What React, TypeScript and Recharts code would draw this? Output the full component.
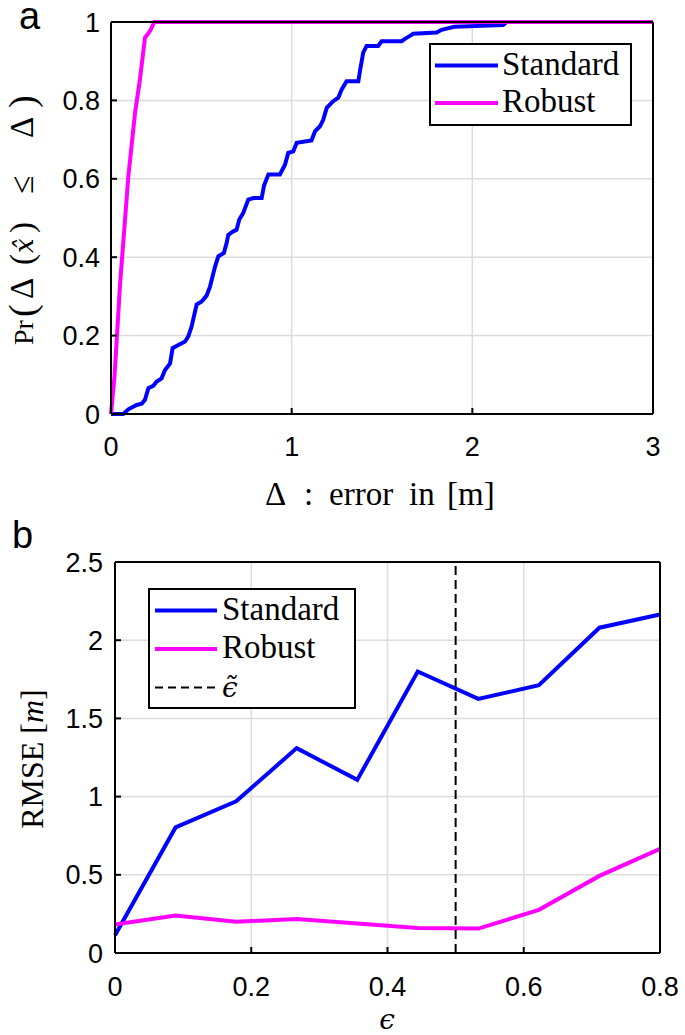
import React from 'react'
import { LineChart, Line, XAxis, YAxis, CartesianGrid, ReferenceLine, Legend } from 'recharts'

// colours (matlab 'b' and 'm')
const BLUE = '#0000ff'
const MAGENTA = '#ff00ff'
const GRID = '#dcdcdc'

// panel a: empirical CDF of the position error
const ERR_STD = [
  0, 0.068, 0.096, 0.142, 0.17, 0.188, 0.207, 0.234, 0.253, 0.28, 0.299, 0.327, 0.341, 0.373, 0.41, 0.428,
  0.446, 0.474, 0.502, 0.529, 0.548, 0.576, 0.594, 0.625, 0.64, 0.649, 0.677, 0.695, 0.71, 0.732, 0.76,
  0.788, 0.834, 0.847, 0.871, 0.935, 0.963, 0.981, 1.009, 1.028, 1.11, 1.129, 1.157, 1.175, 1.194, 1.23,
  1.258, 1.277, 1.304, 1.369, 1.378, 1.396, 1.415, 1.479, 1.498, 1.609, 1.627, 1.645, 1.673, 1.802, 1.83,
  1.9, 2.17, 2.19,
]
const CDF_STD = [
  0, 0, 0.012, 0.023, 0.026, 0.036, 0.066, 0.072, 0.083, 0.091, 0.112, 0.129, 0.168, 0.176, 0.185, 0.198,
  0.223, 0.279, 0.287, 0.302, 0.325, 0.376, 0.402, 0.411, 0.436, 0.457, 0.466, 0.47, 0.496, 0.513, 0.547,
  0.551, 0.551, 0.583, 0.611, 0.611, 0.636, 0.666, 0.67, 0.692, 0.698, 0.721, 0.734, 0.751, 0.781, 0.798,
  0.807, 0.828, 0.849, 0.849, 0.875, 0.922, 0.939, 0.939, 0.951, 0.951, 0.957, 0.962, 0.97, 0.973, 0.98,
  0.988, 0.992, 1,
]
const ERR_ROB = [0, 0.02, 0.05, 0.096, 0.133, 0.16, 0.188, 0.216, 0.24, 3]
const CDF_ROB = [0, 0.1, 0.33, 0.606, 0.768, 0.853, 0.96, 0.977, 1, 1]
const X_TICKS_A = [0, 1, 2, 3]
const Y_TICKS_A = [0, 0.2, 0.4, 0.6, 0.8, 1]

// panel b: RMSE against contamination level
const EPS = [0, 0.0889, 0.1778, 0.2667, 0.3556, 0.4444, 0.5333, 0.6222, 0.7111, 0.8]
const RMSE_STD = [0.113, 0.803, 0.97, 1.31, 1.107, 1.8, 1.625, 1.712, 2.08, 2.164]
const RMSE_ROB = [0.182, 0.239, 0.2, 0.217, 0.189, 0.16, 0.156, 0.276, 0.493, 0.666]
const EPS_TILDE = 0.5
const X_TICKS_B = [0, 0.2, 0.4, 0.6, 0.8]
const Y_TICKS_B = [0, 0.5, 1, 1.5, 2, 2.5]

const stdCdf = ERR_STD.map((x, i) => ({ x, y: CDF_STD[i] }))
const robCdf = ERR_ROB.map((x, i) => ({ x, y: CDF_ROB[i] }))
const rmseRows = EPS.map((eps, i) => ({ eps, standard: RMSE_STD[i], robust: RMSE_ROB[i] }))

const SANS = 'Liberation Sans, Arial, sans-serif'
const SERIF = 'Liberation Serif, Times New Roman, DejaVu Serif'
const MATH = 'DejaVu Serif'
const serif = { fontFamily: SERIF }
const tickFont = { fontSize: 27, fill: '#000', fontFamily: SANS }
const axisStroke = { stroke: '#000', strokeWidth: 2 }
const LW = 4

type Item = { label: string; color: string; dash?: string; math?: boolean }

function BoxLegend({ items, w, h, rowGap, x0, x1, tx }: { items: Item[]; w: number; h: number; rowGap: number; x0: number; x1: number; tx: number }) {
  return (
    <svg width={w} height={h} style={{ display: 'block', overflow: 'visible', fontFamily: SERIF }}>
      <rect x={1} y={1} width={w - 2} height={h - 2} fill="#fff" stroke="#000" strokeWidth={2} />
      {items.map((it, i) => {
        const y = 22.5 + i * rowGap
        return (
          <g key={it.label}>
            <line x1={x0} x2={x1} y1={y} y2={y} stroke={it.color} strokeWidth={it.dash ? 2.2 : LW} strokeDasharray={it.dash} />
            {it.math ? (
              <text x={tx} y={y + 9} style={{ fontFamily: MATH, fontStyle: 'italic' }} fontSize={28}>
                {'\u03F5\u0303'}
              </text>
            ) : (
              <text x={tx} y={y + 9} fontFamily={SERIF} style={serif} fontSize={33}>
                {it.label}
              </text>
            )}
          </g>
        )
      })}
    </svg>
  )
}

function PanelA() {
  return (
    <LineChart width={685} height={500} margin={{ top: 21, right: 31, bottom: 0, left: 0 }}>
      <CartesianGrid stroke={GRID} strokeWidth={1.5} />
      <XAxis dataKey="x" type="number" domain={[0, 3]} ticks={X_TICKS_A} interval={0} height={86}
        tickSize={-6} tickMargin={29} tick={tickFont} axisLine={axisStroke} tickLine={axisStroke} />
      <XAxis xAxisId="top" orientation="top" dataKey="x" type="number" domain={[0, 3]} ticks={X_TICKS_A}
        interval={0} height={1} tickSize={-6} tick={false} axisLine={axisStroke} tickLine={axisStroke} />
      <YAxis type="number" domain={[0, 1]} ticks={Y_TICKS_A} interval={0} width={111}
        tickSize={-6} tickMargin={17} tick={tickFont} axisLine={axisStroke} tickLine={axisStroke} />
      <YAxis yAxisId="right" orientation="right" type="number" domain={[0, 1]} ticks={Y_TICKS_A} interval={0}
        width={1} tickSize={-6} tick={false} axisLine={axisStroke} tickLine={axisStroke} />
      <Line data={stdCdf} dataKey="y" name="Standard" type="linear" stroke={BLUE} strokeWidth={LW}
        dot={false} isAnimationActive={false} />
      <Line data={robCdf} dataKey="y" name="Robust" type="linear" stroke={MAGENTA} strokeWidth={LW}
        dot={false} isAnimationActive={false} />
      <Legend layout="vertical" align="center" verticalAlign="middle"
        wrapperStyle={{ left: 429, top: 43, width: 203, height: 83 }}
        content={() => (
          <BoxLegend w={203} h={83} rowGap={37.5} x0={6} x1={69} tx={73}
            items={[{ label: 'Standard', color: BLUE }, { label: 'Robust', color: MAGENTA }]} />
        )} />
    </LineChart>
  )
}

function PanelB() {
  return (
    <LineChart width={685} height={535} data={rmseRows} margin={{ top: 61, right: 24, bottom: 0, left: 0 }}>
      <CartesianGrid stroke={GRID} strokeWidth={1.5} />
      <XAxis dataKey="eps" type="number" domain={[0, 0.8]} ticks={X_TICKS_B} interval={0} height={82}
        tickSize={-6} tickMargin={30} tick={tickFont} axisLine={axisStroke} tickLine={axisStroke} />
      <XAxis xAxisId="top" orientation="top" dataKey="eps" type="number" domain={[0, 0.8]} ticks={X_TICKS_B}
        interval={0} height={1} tickSize={-6} tick={false} axisLine={axisStroke} tickLine={axisStroke} />
      <YAxis type="number" domain={[0, 2.5]} ticks={Y_TICKS_B} interval={0} width={115}
        tickSize={-6} tickMargin={18} tick={tickFont} axisLine={axisStroke} tickLine={axisStroke} />
      <YAxis yAxisId="right" orientation="right" type="number" domain={[0, 2.5]} ticks={Y_TICKS_B} interval={0}
        width={1} tickSize={-6} tick={false} axisLine={axisStroke} tickLine={axisStroke} />
      <Line dataKey="standard" name="Standard" type="linear" stroke={BLUE} strokeWidth={LW}
        dot={false} isAnimationActive={false} />
      <Line dataKey="robust" name="Robust" type="linear" stroke={MAGENTA} strokeWidth={LW}
        dot={false} isAnimationActive={false} />
      <ReferenceLine x={EPS_TILDE} stroke="#000" strokeWidth={2} strokeDasharray="9 5" />
      <Legend layout="vertical" align="center" verticalAlign="middle"
        wrapperStyle={{ left: 148, top: 88, width: 208, height: 121 }}
        content={() => (
          <BoxLegend w={208} h={121} rowGap={38.5} x0={7} x1={69} tx={74}
            items={[
              { label: 'Standard', color: BLUE },
              { label: 'Robust', color: MAGENTA },
              { label: 'eps', color: '#000', dash: '8 5', math: true },
            ]} />
        )} />
    </LineChart>
  )
}

// panel letters and axis titles
function Titles() {
  return (
    <svg width={685} height={1035} style={{ position: 'absolute', left: 0, top: 0, pointerEvents: 'none' }}>
      <text x={19} y={29} style={{ fontFamily: SANS }} fontSize={38}>a</text>
      <text x={12} y={548} style={{ fontFamily: SANS }} fontSize={38}>b</text>

      {/* x title of panel a, words placed like the latex spacing */}
      <text y={505} style={serif} fontSize={33}>
        <tspan x={265}>Δ</tspan>
        <tspan x={304}>:</tspan>
        <tspan x={329}>error</tspan>
        <tspan x={409}>in</tspan>
        <tspan x={447}>[m]</tspan>
      </text>

      <g transform="translate(33,218) rotate(-90)">
        <text y={0} style={serif} fontSize={33}>
          <tspan x={-127} fontSize={28}>Pr</tspan>
          <tspan x={-99} fontSize={38} dy={2}>(</tspan>
          <tspan x={-81} dy={-2}>Δ</tspan>
          <tspan x={-47}>(</tspan>
          <tspan x={-35} style={{ fontFamily: MATH, fontStyle: 'italic' }} fontSize={26}>{'x\u0302'}</tspan>
          <tspan x={-15}>)</tspan>
          <tspan x={24}>≤</tspan>
          <tspan x={80}>Δ</tspan>
          <tspan x={110} fontSize={38} dy={2}>)</tspan>
        </text>
      </g>

      <g transform="translate(43,759) rotate(-90)">
        <text x={0} y={0} textAnchor="middle" style={serif} fontSize={32}>
          RMSE [<tspan fontStyle="italic">m</tspan>]
        </text>
      </g>
      <text x={387} y={1029} textAnchor="middle" style={{ fontFamily: MATH, fontStyle: 'italic' }} fontSize={28}>
        {'\u03F5'}
      </text>
    </svg>
  )
}

export default function App() {
  return (
    <div style={{ position: 'absolute', left: 0, top: 0, width: 685, height: 1035, background: '#fff' }}>
      <div style={{ position: 'absolute', left: 0, top: 0 }}>
        <PanelA />
      </div>
      <div style={{ position: 'absolute', left: 0, top: 500 }}>
        <PanelB />
      </div>
      <Titles />
    </div>
  )
}
